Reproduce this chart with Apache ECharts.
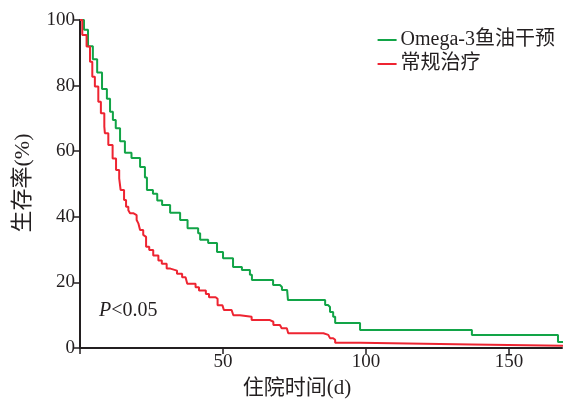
<!DOCTYPE html>
<html><head><meta charset="utf-8">
<script src="https://cdn.jsdelivr.net/npm/echarts@6/dist/echarts.min.js"></script>
<style>html,body{margin:0;padding:0;background:#fff}#c{width:564px;height:401px}</style>
</head><body><div id="c"></div>
<script>
const seriesNames = ['Omega-3鱼油干预', '常规治疗'];
const omegaTimes = [0,1.4,2.8,4.5,6,7.7,9.4,10.5,11.5,12.5,14,15.7,18,21,22.7,23.4,25.5,27,28.7,31.5,35,37.6,41.3,42,44.8,47.9,50,53.5,56.6,59.4,60.1,67.5,69.9,70.6,72.4,72.7,85.7,86.7,87.4,88.5,89.2,97.9,137,167.1,168.9];
const omegaSurv  = [100,97,92,88,84,79,76,72,69.5,67,63,59.5,57.9,55.2,52,48.2,47,45,43.6,41.2,39,36.5,35,33,32,29.3,27.4,24.7,23.8,22.3,20.7,19.2,18.6,17.7,17.1,14.6,13.1,12.5,11,9.5,7.6,5.5,4,1.8,1.8];
const convTimes = [0,0.8,2.3,3.5,4.3,5.2,6.4,7.3,8.5,8.7,9.9,11.4,12.6,13.7,14.2,15.4,16.1,16.9,17.5,18.6,19.8,20.4,21,22.1,22.7,23.1,24.2,25.6,27.4,28.6,30.3,31.6,33.9,35.7,36.9,37.5,40.4,41.6,44,45.1,47.4,48.1,49.8,50.3,53,53.6,55.9,60,66.4,67.6,69.9,70.5,72.3,72.8,85.1,86.8,87.4,88.5,89.2,97.9,137,168.9];
const convSurv  = [100,95.4,91.9,87.3,82.7,79.7,75.1,71.6,67.5,65.5,61.9,57.8,54.3,51.7,48.2,45.1,43.1,42,41.1,40.5,39,38,36,34.5,33.9,30.9,29.9,28.2,26.7,25.7,24.2,23.6,22.6,21.6,21.1,19.6,18.5,17.5,16.5,15.5,15,13,12.5,11.6,11,10,9.5,8.5,8,7,6.5,6,5.5,4.5,4,3.5,3,2.5,1.6,1.1,0.7,0.4];
const xTicks = [0,50,100,150];
const yTicks = [0,20,40,60,80,100];
const xName = '住院时间(d)';
const yName = '生存率(%)';

const serif = '"Liberation Serif","Noto Sans CJK SC",serif';
const ink = '#231f20';
const zip = (a,b) => a.map((v,i)=>[v,b[i]]);
const chart = echarts.init(document.getElementById('c'), null, {renderer:'canvas'});
chart.setOption({
  animation:false,
  backgroundColor:'#fff',
  grid:{left:80, top:20, right:2, bottom:53, containLabel:false},
  legend:{
    orient:'vertical', right:4, top:25, itemWidth:19, itemHeight:10, itemGap:4,
    icon:'path://M0,4 L19,4 L19,6 L0,6 Z',
    textStyle:{fontFamily:serif, fontSize:20, lineHeight:20, color:ink, padding:[0,0,0,-1]},
    data:seriesNames
  },
  title:{
    text:'{i|P}<0.05', left:94, top:296,
    textStyle:{fontFamily:serif, fontSize:20, fontWeight:'normal', color:ink,
      rich:{i:{fontFamily:serif, fontSize:20, fontStyle:'italic', color:ink}}}
  },
  graphic:[
    {type:'text', x:297, y:388, style:{text:xName, font:'21px '+serif, fill:ink, textAlign:'center', textVerticalAlign:'middle'}},
    {type:'text', x:23, y:183, rotation:Math.PI/2, style:{text:yName, font:'22px '+serif, fill:ink, textAlign:'center', textVerticalAlign:'middle'}}
  ],
  xAxis:{
    type:'value', min:0, max:168.5, interval:50,
    axisLine:{show:true, onZero:false, lineStyle:{color:ink, width:2}},
    axisTick:{show:true, length:6, lineStyle:{color:ink, width:1.5}},
    axisLabel:{fontFamily:serif, fontSize:19, color:ink, margin:5,
      formatter:v=> xTicks.indexOf(v) > 0 ? String(v) : '', showMaxLabel:false},
    splitLine:{show:false}
  },
  yAxis:{
    type:'value', min:0, max:100, interval:20,
    axisLine:{show:true, lineStyle:{color:ink, width:2}},
    axisTick:{show:true, length:6, lineStyle:{color:ink, width:1.5}},
    axisLabel:{fontFamily:serif, fontSize:19, color:ink, margin:5,
      formatter:v=> yTicks.indexOf(v) >= 0 ? String(v) : ''},
    splitLine:{show:false}
  },
  series:[
    {name:seriesNames[0], type:'line', step:'end', symbol:'none', data:zip(omegaTimes,omegaSurv),
     lineStyle:{color:'#12a447', width:2}, itemStyle:{color:'#12a447'}},
    {name:seriesNames[1], type:'line', step:'end', symbol:'none', data:zip(convTimes,convSurv),
     lineStyle:{color:'#ee2431', width:2}, itemStyle:{color:'#ee2431'}}
  ]
});
</script></body></html>
